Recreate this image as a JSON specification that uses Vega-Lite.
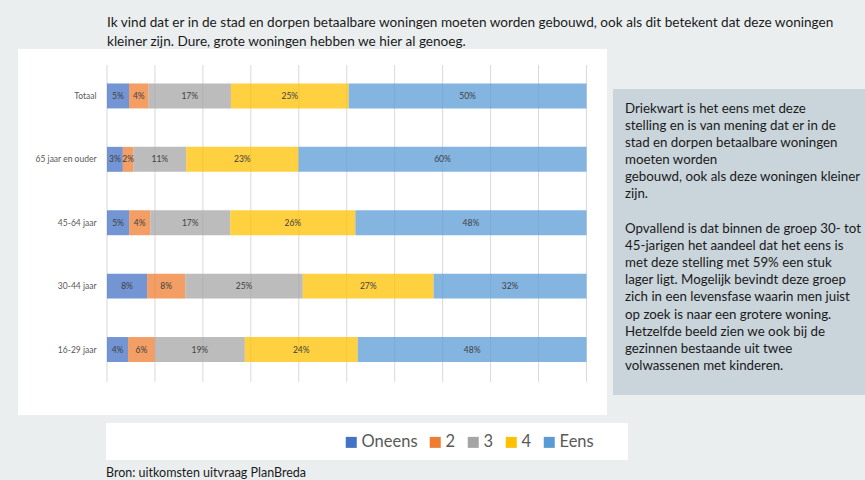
{
  "$schema": "https://vega.github.io/schema/vega-lite/v6.json",
  "background": "#eaeeef",
  "padding": {"left": 18, "top": 16, "right": 0, "bottom": 0},
  "title": {
    "text": ["Ik vind dat er in de stad en dorpen betaalbare woningen moeten worden gebouwd, ook als dit betekent dat deze woningen", "kleiner zijn. Dure, grote woningen hebben we hier al genoeg."],
    "anchor": "start", "dx": 89, "fontSize": 13.6, "font": "Lato", "fontWeight": "normal", "color": "#1a1a1a", "lineHeight": 19, "offset": 0
  },
  "config": {"view": {"stroke": null}, "font": "Lato"},
  "spacing": 8,
  "resolve": {"scale": {"color": "independent"}, "legend": {"color": "independent"}},
  "vconcat": [
    {
      "width": 589,
      "height": 366,
      "view": {"fill": "white"},
      "resolve": {"scale": {"y": "independent"}},
      "layer": [
        {
          "data": {"values": [{"t": 0}, {"t": 0.1}, {"t": 0.2}, {"t": 0.3}, {"t": 0.4}, {"t": 0.5}, {"t": 0.6}, {"t": 0.7}, {"t": 0.8}, {"t": 0.9}, {"t": 1}]},
          "mark": {"type": "rule", "color": "#d9d9d9", "strokeWidth": 1},
          "encoding": {
            "x": {"field": "t", "type": "quantitative", "scale": {"domain": [-0.1856, 1.0428], "nice": false, "zero": false}, "axis": null},
            "y": {"datum": 0, "type": "quantitative", "scale": {"domain": [-0.1041, 1.0505], "nice": false, "zero": false}, "axis": null},
            "y2": {"datum": 1}
          }
        },
        {
          "data": {"values": [
            {"g": "Totaal", "c": "Oneens", "o": 1, "v": 0.046},
            {"g": "Totaal", "c": "2", "o": 2, "v": 0.041},
            {"g": "Totaal", "c": "3", "o": 3, "v": 0.172},
            {"g": "Totaal", "c": "4", "o": 4, "v": 0.246},
            {"g": "Totaal", "c": "Eens", "o": 5, "v": 0.497},
            {"g": "65 jaar en ouder", "c": "Oneens", "o": 1, "v": 0.033},
            {"g": "65 jaar en ouder", "c": "2", "o": 2, "v": 0.022},
            {"g": "65 jaar en ouder", "c": "3", "o": 3, "v": 0.11},
            {"g": "65 jaar en ouder", "c": "4", "o": 4, "v": 0.234},
            {"g": "65 jaar en ouder", "c": "Eens", "o": 5, "v": 0.6},
            {"g": "45-64 jaar", "c": "Oneens", "o": 1, "v": 0.046},
            {"g": "45-64 jaar", "c": "2", "o": 2, "v": 0.044},
            {"g": "45-64 jaar", "c": "3", "o": 3, "v": 0.166},
            {"g": "45-64 jaar", "c": "4", "o": 4, "v": 0.26},
            {"g": "45-64 jaar", "c": "Eens", "o": 5, "v": 0.48},
            {"g": "30-44 jaar", "c": "Oneens", "o": 1, "v": 0.084},
            {"g": "30-44 jaar", "c": "2", "o": 2, "v": 0.08},
            {"g": "30-44 jaar", "c": "3", "o": 3, "v": 0.246},
            {"g": "30-44 jaar", "c": "4", "o": 4, "v": 0.274},
            {"g": "30-44 jaar", "c": "Eens", "o": 5, "v": 0.32},
            {"g": "16-29 jaar", "c": "Oneens", "o": 1, "v": 0.044},
            {"g": "16-29 jaar", "c": "2", "o": 2, "v": 0.056},
            {"g": "16-29 jaar", "c": "3", "o": 3, "v": 0.188},
            {"g": "16-29 jaar", "c": "4", "o": 4, "v": 0.236},
            {"g": "16-29 jaar", "c": "Eens", "o": 5, "v": 0.478}
          ]},
          "encoding": {
            "y": {
              "field": "g", "type": "nominal",
              "sort": ["Totaal", "65 jaar en ouder", "45-64 jaar", "30-44 jaar", "16-29 jaar"],
              "scale": {"paddingInner": 0.606, "paddingOuter": 0.6895, "align": 0.394},
              "axis": {"title": null, "orient": "left", "offset": -82, "ticks": false, "domain": false, "labelPadding": 4, "labelFontSize": 8.5, "labelColor": "#595959", "labelFont": "Lato"}
            }
          },
          "layer": [
            {
              "mark": {"type": "bar", "opacity": 0.75},
              "encoding": {
                "x": {
                  "field": "v", "type": "quantitative", "stack": "normalize",
                  "scale": {"domain": [-0.1856, 1.0428], "nice": false, "zero": false},
                  "axis": {"values": [0, 0.1, 0.2, 0.3, 0.4, 0.5, 0.6, 0.7, 0.8, 0.9, 1], "format": ".0%", "title": null, "grid": false, "ticks": false, "domain": false, "offset": -17, "labelPadding": 2, "labelFontSize": 8, "labelColor": "#595959", "labelFont": "Lato"}
                },
                "order": {"field": "o", "type": "quantitative"},
                "color": {
                  "field": "c", "type": "nominal",
                  "scale": {"domain": ["Oneens", "2", "3", "4", "Eens"], "range": ["#4472C4", "#ED7D31", "#A5A5A5", "#FFC000", "#5B9BD5"]},
                  "legend": null
                }
              }
            },
            {
              "mark": {"type": "text", "fontSize": 8.5, "color": "#404040", "baseline": "middle", "align": "center", "font": "Lato"},
              "encoding": {
                "x": {"field": "v", "type": "quantitative", "stack": "normalize", "bandPosition": 0.5, "axis": null},
                "order": {"field": "o", "type": "quantitative"},
                "detail": {"field": "c", "type": "nominal"},
                "text": {"field": "v", "type": "quantitative", "format": ".0%"}
              }
            }
          ]
        },
        {
          "data": {"values": [{"panel": "tekst"}]},
          "mark": {"type": "rect", "color": "#c9d4db"},
          "encoding": {
            "x": {"datum": 1.0553, "type": "quantitative", "scale": {"domain": [-0.1856, 1.0428], "nice": false, "zero": false}, "axis": null},
            "x2": {"datum": 1.5809},
            "y": {"datum": 0, "type": "quantitative", "scale": {"domain": [-0.06536, 1.13072], "nice": false, "zero": false}, "axis": null},
            "y2": {"datum": 1}
          }
        },
        {
          "data": {"values": [
            {"r": 0, "t": "Driekwart is het eens met deze"},
            {"r": 1, "t": "stelling en is van mening dat er in de"},
            {"r": 2, "t": "stad en dorpen betaalbare woningen"},
            {"r": 3, "t": "moeten worden"},
            {"r": 4, "t": "gebouwd, ook als deze woningen kleiner"},
            {"r": 5, "t": "zijn."},
            {"r": 7, "t": "Opvallend is dat binnen de groep 30- tot"},
            {"r": 8, "t": "45-jarigen het aandeel dat het eens is"},
            {"r": 9, "t": "met deze stelling met 59% een stuk"},
            {"r": 10, "t": "lager ligt. Mogelijk bevindt deze groep"},
            {"r": 11, "t": "zich in een levensfase waarin men juist"},
            {"r": 12, "t": "op zoek is naar een grotere woning."},
            {"r": 13, "t": "Hetzelfde beeld zien we ook bij  de"},
            {"r": 14, "t": "gezinnen bestaande uit twee"},
            {"r": 15, "t": "volwassenen met kinderen."}
          ]},
          "mark": {"type": "text", "align": "left", "baseline": "middle", "fontSize": 13.3, "font": "Lato", "color": "#1a1a1a"},
          "encoding": {
            "x": {"datum": 1.0804, "type": "quantitative", "scale": {"domain": [-0.1856, 1.0428], "nice": false, "zero": false}, "axis": null},
            "y": {"field": "r", "type": "quantitative", "scale": {"domain": [-3.481, 17.857], "reverse": true, "nice": false, "zero": false}, "axis": null},
            "text": {"field": "t"}
          }
        }
      ]
    },
    {
      "spacing": 0,
      "hconcat": [
        {
          "width": 88,
          "height": 37,
          "view": {"fill": "#eaeeef"},
          "data": {"values": []},
          "mark": "point"
        },
        {
          "width": 522,
          "height": 37,
          "view": {"fill": "white"},
          "title": {"text": "Bron: uitkomsten uitvraag PlanBreda", "orient": "bottom", "anchor": "start", "offset": 7, "fontSize": 12.5, "font": "Lato", "fontWeight": "normal", "color": "#1a1a1a"},
          "data": {"values": [{"c": "Oneens"}, {"c": "2"}, {"c": "3"}, {"c": "4"}, {"c": "Eens"}]},
          "mark": {"type": "square", "size": 0, "opacity": 1},
          "encoding": {
            "color": {
              "field": "c", "type": "nominal",
              "scale": {"domain": ["Oneens", "2", "3", "4", "Eens"], "range": ["#4472C4", "#ED7D31", "#A5A5A5", "#FFC000", "#5B9BD5"]},
              "legend": {"orient": "none", "legendX": 325, "legendY": 11, "direction": "horizontal", "title": null, "symbolType": "square", "symbolSize": 121, "symbolOpacity": 1, "symbolStrokeWidth": 0, "labelFontSize": 16.5, "labelFont": "Lato", "labelColor": "#595959", "columnPadding": 9, "labelOffset": 2, "padding": 0}
            }
          }
        }
      ]
    }
  ]
}
